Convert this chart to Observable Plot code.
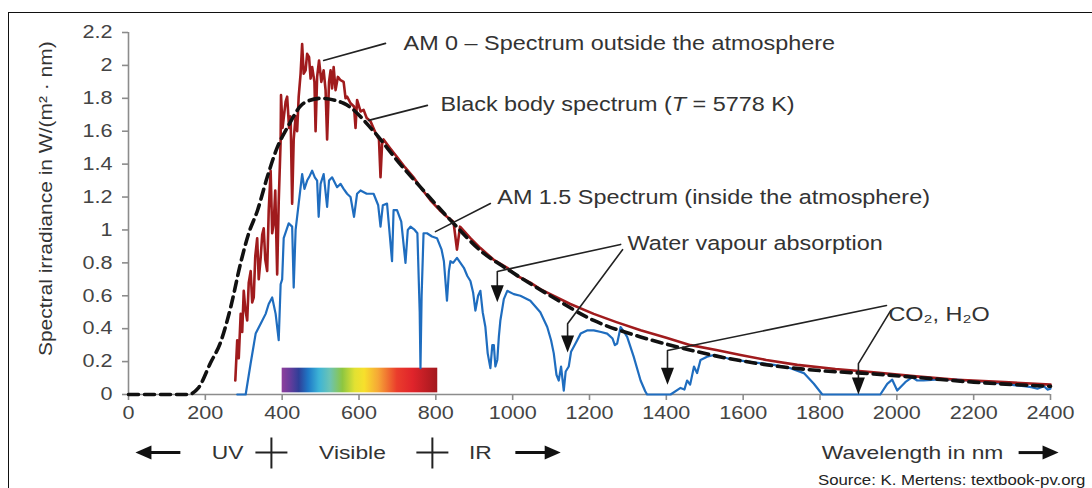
<!DOCTYPE html>
<html><head><meta charset="utf-8">
<script src="https://cdn.jsdelivr.net/npm/d3@7"></script>
<script src="https://cdn.jsdelivr.net/npm/@observablehq/plot@0.6"></script>
<style>
html,body{margin:0;padding:0;background:#fff;}
#wrap{position:relative;width:1092px;height:488px;overflow:hidden;background:#fff;}
#chart{position:absolute;left:0;top:0;}
#frame{position:absolute;left:8px;top:12px;width:1100px;height:500px;border-left:1.5px solid #111;border-top:1.5px solid #111;pointer-events:none;}
</style></head><body>
<div id="wrap"><div id="chart"></div><div id="frame"></div></div>
<script>
// ---- data (wavelength nm, spectral irradiance W/(m²·nm)) ----
const am0 = [[278,0.085],[283,0.33],[287,0.22],[292,0.49],[296,0.38],[300,0.63],[304,0.52],[309,0.45],[313,0.68],[318,0.75],[322,0.56],[326,0.59],[330,0.84],[335,0.95],[339,0.70],[344,0.83],[348,0.97],[352,1.01],[356,0.82],[361,0.75],[365,1.12],[370,1.36],[374,0.98],[378,1.04],[382,1.24],[387,0.73],[391,1.17],[396,1.54],[397,1.82],[401,1.62],[405,1.70],[409,1.78],[413,1.81],[418,1.62],[422,1.69],[426,1.16],[430,1.55],[435,1.69],[439,1.60],[443,1.81],[448,1.95],[452,2.13],[456,1.95],[461,1.97],[465,2.07],[470,2.05],[474,1.92],[478,1.99],[484,1.90],[487,1.60],[491,1.93],[496,2.03],[502,1.90],[508,1.97],[513,1.85],[517,1.55],[522,1.90],[526,1.97],[530,1.86],[534,1.99],[539,1.85],[545,1.93],[552,1.91],[560,1.90],[565,1.80],[569,1.81],[578,1.77],[587,1.75],[591,1.62],[595,1.79],[604,1.72],[612,1.73],[620,1.68],[630,1.66],[645,1.58],[652,1.55],[656,1.32],[660,1.52],[664,1.55],[680,1.50],[700,1.44],[720,1.38],[742,1.32],[760,1.26],[786,1.18],[810,1.12],[829,1.08],[846,1.05],[855,0.88],[863,1.02],[890,0.95],[916,0.89],[950,0.82],[986,0.77],[1012,0.72],[1046,0.68],[1072,0.64],[1098,0.61],[1150,0.55],[1211,0.49],[1270,0.44],[1333,0.39],[1400,0.345],[1463,0.30],[1530,0.27],[1593,0.24],[1660,0.21],[1741,0.18],[1840,0.155],[1940,0.135],[2050,0.11],[2157,0.09],[2280,0.075],[2400,0.06]];

const blackBody = [[0,0],[100,0],[154,0],[182,0.04],[213,0.19],[240,0.32],[266,0.53],[292,0.80],[313,0.98],[336,1.12],[361,1.32],[387,1.50],[413,1.62],[456,1.77],[500,1.80],[560,1.77],[638,1.60],[700,1.42],[760,1.26],[846,1.04],[916,0.875],[994,0.75],[1098,0.60],[1211,0.45],[1333,0.35],[1445,0.28],[1559,0.22],[1679,0.175],[1800,0.145],[1940,0.125],[2070,0.10],[2200,0.075],[2400,0.05]];

const am15 = [[283,0],[305,0],[318,0.19],[331,0.37],[344,0.43],[357,0.49],[365,0.55],[374,0.59],[383,0.49],[391,0.33],[396,0.67],[400,0.70],[404,0.95],[417,1.04],[426,1.02],[430,0.65],[435,1.00],[443,1.16],[452,1.34],[458,1.25],[465,1.30],[472,1.33],[478,1.36],[485,1.32],[491,1.30],[495,1.08],[500,1.28],[508,1.34],[517,1.14],[522,1.30],[530,1.32],[543,1.26],[552,1.28],[560,1.25],[569,1.22],[578,1.20],[587,1.08],[595,1.22],[604,1.24],[620,1.22],[638,1.22],[650,1.15],[656,1.02],[662,1.15],[673,1.16],[686,0.81],[690,1.12],[699,1.12],[710,1.05],[721,0.80],[727,1.00],[734,1.02],[745,1.00],[752,0.98],[758,0.50],[760,0.16],[763,0.60],[768,0.98],[777,0.98],[790,0.96],[803,0.95],[815,0.88],[821,0.81],[829,0.57],[834,0.75],[838,0.81],[845,0.80],[855,0.83],[864,0.80],[873,0.77],[882,0.72],[890,0.69],[897,0.62],[903,0.51],[910,0.60],[916,0.63],[922,0.50],[929,0.41],[935,0.25],[942,0.16],[947,0.30],[951,0.30],[955,0.17],[960,0.21],[964,0.35],[968,0.45],[977,0.58],[986,0.63],[1003,0.61],[1020,0.60],[1046,0.57],[1072,0.50],[1090,0.41],[1100,0.33],[1107,0.25],[1114,0.12],[1120,0.085],[1126,0.17],[1133,0.024],[1138,0.14],[1146,0.17],[1152,0.26],[1159,0.29],[1168,0.33],[1177,0.37],[1195,0.39],[1211,0.39],[1230,0.38],[1246,0.37],[1260,0.34],[1266,0.30],[1272,0.31],[1281,0.41],[1290,0.38],[1298,0.35],[1315,0.23],[1333,0.085],[1345,0.02],[1350,0],[1411,0],[1437,0.04],[1447,0.03],[1454,0.085],[1462,0.06],[1472,0.17],[1480,0.13],[1489,0.21],[1506,0.23],[1524,0.24],[1559,0.22],[1611,0.20],[1680,0.18],[1723,0.16],[1758,0.13],[1784,0.065],[1806,0],[1957,0],[1975,0.065],[1988,0.09],[2001,0.024],[2022,0.075],[2040,0.105],[2053,0.085],[2070,0.085],[2100,0.09],[2157,0.09],[2200,0.082],[2244,0.075],[2290,0.062],[2331,0.05],[2350,0.045],[2366,0.035],[2383,0.05],[2392,0.03],[2400,0.035]];

// ---- ticks ----
const xTicks = [0,200,400,600,800,1000,1200,1400,1600,1800,2000,2200,2400];
const xTickLabels = ["0","200","400","600","800","1000","1200","1400","1600","1800","2000","2200","2400"];
const yTicks = [0,0.2,0.4,0.6,0.8,1,1.2,1.4,1.6,1.8,2,2.2];
const yTickLabels = ["0","0.2","0.4","0.6","0.8","1","1.2","1.4","1.6","1.8","2","2.2"];

// ---- visible band ----
const visibleBand = [{from: 400, to: 805, bottom: 0.01, top: 0.16}];
const visStopOffsets = [0, 0.05, 0.11, 0.17, 0.24, 0.31, 0.39, 0.47, 0.53, 0.62, 0.74, 0.84, 1];
const visStopColors = ["#8e3f9c","#6a3c9c","#2f3f98","#1f78c6","#3db4d6","#6cc3b4","#8dc641","#e2e132","#f7e02c","#f6a736","#ea3d2c","#e0242b","#a2181e"];

// ---- annotations ----
const annoText = ["AM 0 \u2013 Spectrum outside the atmosphere","Black body spectrum (T = 5778 K)","AM 1.5 Spectrum (inside the atmosphere)","Water vapour absorption","CO\u2082, H\u2082O"];
const annoX = [716, 812, 960, 1299, 1978];
const annoY = [2.13, 1.763, 1.198, 0.918, 0.486];
const leaders = [
  [[669,2.134],[508,2.03]],
  [[778,1.757],[625,1.666]],
  [[942,1.161],[799,0.99]],
  [[1281,0.912],[960,0.748],[960,0.62]],
  [[1286,0.88],[1143,0.43],[1143,0.32]],
  [[1973,0.541],[1403,0.267],[1403,0.14]],
  [[1984,0.51],[1900,0.188],[1900,0.08]]
];
const arrowTipX = [960, 1143, 1403, 1900];
const arrowTipY = [0.56, 0.255, 0.06, 0.0];

// ---- bottom row ----
const rowLabels = ["UV","Visible","IR","Wavelength in nm"];
const rowLabelX = [258, 583, 916, 2041];
const rowY = -0.353;
const rowCrossX = [372, 791];
const rowArrows = [{from: 135, to: 18}, {from: 1007, to: 1125}, {from: 2317, to: 2421}];
const sourceNote = {text: "Source: K. Mertens: textbook-pv.org", x: 2491, y: -0.523};
const yTitle = {text: "Spectral irradiance in W/(m\u00b2 \u00b7 nm)", x: -213, y: 1.19};

// ---- build tables ----
const annotations = annoText.map((t, i) => ({text: t, x: annoX[i], y: annoY[i]}));
const leaderPts = leaders.flatMap((pts, k) => pts.map(([x, y]) => ({k, x, y})));
const tips = arrowTipX.map((x, i) => ({x, y: arrowTipY[i]}));
const rowText = rowLabels.map((t, i) => ({text: t, x: rowLabelX[i]}));

const headDown = {draw(ctx) { ctx.moveTo(0, 0); ctx.lineTo(-6.5, -17); ctx.lineTo(6.5, -17); ctx.closePath(); }};
const headSide = {draw(ctx) { ctx.moveTo(0, 0); ctx.lineTo(-7, -16); ctx.lineTo(7, -16); ctx.closePath(); }};
const plusSym = {draw(ctx) { ctx.moveTo(-16, 0); ctx.lineTo(16, 0); ctx.moveTo(0, -15); ctx.lineTo(0, 16); }};

const axisGray = "#8c8c8c";
const font = "'Liberation Sans', Arial, Helvetica, sans-serif";

const chart = Plot.plot({
  width: 1092, height: 488,
  marginLeft: 128, marginRight: 42, marginTop: 32, marginBottom: 94,
  style: {fontFamily: font, fontSize: "18px", background: "none", overflow: "visible"},
  x: {domain: [0, 2400]},
  y: {domain: [0, 2.2]},
  marks: [
    Plot.rect(visibleBand, {x1: "from", x2: "to", y1: "bottom", y2: "top", fill: "url(#visgrad)"}),
    Plot.ruleY([0], {stroke: axisGray, strokeWidth: 1.6}),
    Plot.ruleX([0], {y1: 0, y2: 2.2, stroke: axisGray, strokeWidth: 1.6}),
    Plot.axisX({ticks: xTicks, tickSize: 6, tickFormat: () => "", stroke: axisGray, strokeWidth: 1.6, label: null}),
    Plot.axisX({ticks: xTicks, tickSize: 0, tickPadding: 12, tickFormat: d => xTickLabels[xTicks.indexOf(d)], fill: "#444", label: null}),
    Plot.axisY({ticks: yTicks, tickSize: 6, tickFormat: () => "", stroke: axisGray, strokeWidth: 1.6, label: null}),
    Plot.axisY({ticks: yTicks, tickSize: 0, tickPadding: 16, tickFormat: d => yTickLabels[yTicks.indexOf(d)], fill: "#444", label: null}),
    Plot.line(am15, {x: d => d[0], y: d => d[1], stroke: "#1f6dbf", strokeWidth: 2.2}),
    Plot.line(am0, {x: d => d[0], y: d => d[1], stroke: "#a01b1d", strokeWidth: 2.6}),
    Plot.line(blackBody, {x: d => d[0], y: d => d[1], stroke: "#111", strokeWidth: 3.6, strokeDasharray: "10,6", curve: "monotone-x"}),
    Plot.line(leaderPts, {x: "x", y: "y", z: "k", stroke: "#222", strokeWidth: 1.6}),
    Plot.dot(tips, {x: "x", y: "y", symbol: headDown, fill: "#111", stroke: "none", r: 5}),
    Plot.text(annotations, {x: "x", y: "y", text: "text", textAnchor: "start", fontSize: 19.5, fill: "#333"}),
    Plot.text([yTitle], {x: "x", y: "y", text: "text", rotate: -90, fontSize: 17.5, fill: "#333"}),
    Plot.text(rowText, {x: "x", y: rowY, text: "text", fontSize: 19, fill: "#333"}),
    Plot.dot(rowCrossX, {x: d => d, y: rowY, symbol: plusSym, stroke: "#222", strokeWidth: 2, fill: "none", r: 5}),
    Plot.link(rowArrows, {x1: "from", x2: d => d.to + (d.from > d.to ? 30 : -30), y1: rowY, y2: rowY, stroke: "#111", strokeWidth: 3}),
    Plot.dot(rowArrows, {x: "to", y: rowY, symbol: headSide, rotate: d => d.from > d.to ? 90 : -90, fill: "#111", stroke: "none", r: 5}),
    Plot.text([sourceNote], {x: "x", y: "y", text: "text", textAnchor: "end", fontSize: 14, fill: "#222"})
  ]
});

// gradient for visible band
const defs = d3.select(chart).insert("defs", ":first-child");
const lg = defs.append("linearGradient").attr("id", "visgrad").attr("x1", "0").attr("x2", "1").attr("y1", "0").attr("y2", "0");
visStopOffsets.forEach((o, i) => lg.append("stop").attr("offset", o).attr("stop-color", visStopColors[i]));

// italic T in the black body label
const bbLabel = annoText[1];
d3.select(chart).selectAll("text").filter(function() { return this.textContent === bbLabel; }).each(function() {
  const el = d3.select(this);
  el.text("");
  el.append("tspan").text("Black body spectrum (");
  el.append("tspan").attr("font-style", "italic").text("T");
  el.append("tspan").text(" = 5778 K)");
});

// the reference's lettering is horizontally wide: stretch each text about its anchor
const K = 1.2;
d3.select(chart).selectAll("text").each(function() {
  const t = this.getAttribute("transform");
  if (t) this.setAttribute("transform", t + ` scale(${K},1)`);
  else {
    const x = +this.getAttribute("x") || 0, y = +this.getAttribute("y") || 0;
    this.setAttribute("x", 0); this.setAttribute("y", 0);
    this.setAttribute("transform", `translate(${x},${y}) scale(${K},1)`);
  }
});

document.getElementById("chart").appendChild(chart);
</script>
</body></html>
